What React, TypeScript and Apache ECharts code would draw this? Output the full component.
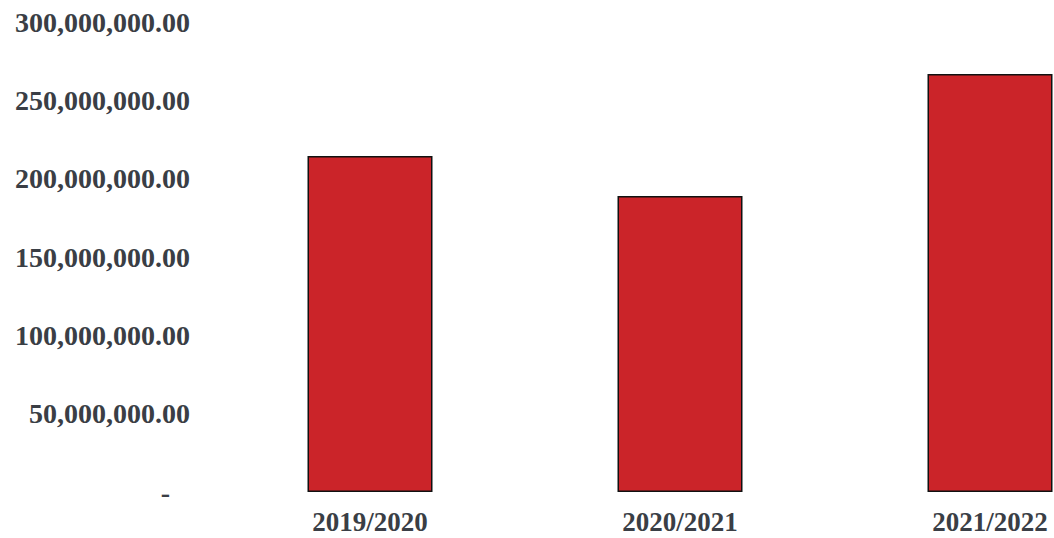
import React, { useEffect, useRef } from "react";
import * as echarts from "echarts";

const categories = ["2019/2020", "2020/2021", "2021/2022"];
const values = [214500000, 189000000, 266800000];
const yTicks = [0, 50000000, 100000000, 150000000, 200000000, 250000000, 300000000];

function fmt(v: number): string {
  if (v === 0) return "{z|-}";
  return v.toLocaleString("en-US", { minimumFractionDigits: 2, maximumFractionDigits: 2 });
}

export default function App() {
  const ref = useRef<HTMLDivElement>(null);
  useEffect(() => {
    if (!ref.current) return;
    const chart = echarts.init(ref.current, null, { renderer: "svg" });
    const font = "'Liberation Serif', 'Times New Roman', serif";
    chart.setOption({
      animation: false,
      backgroundColor: "#ffffff",
      grid: {
        left: 215,
        top: 22,
        bottom: 46,
        width: 930,
        containLabel: false,
        outerBoundsMode: "none",
      },
      xAxis: {
        type: "category",
        data: categories,
        axisLine: { show: false },
        axisTick: { show: false },
        axisLabel: {
          color: "#3a3e45",
          fontFamily: font,
          fontWeight: "bold",
          fontSize: 27,
          lineHeight: 24,
          margin: 18,
          hideOverlap: false,
        },
      },
      yAxis: {
        type: "value",
        min: yTicks[0],
        max: yTicks[yTicks.length - 1],
        interval: 50000000,
        splitLine: { show: false },
        axisLine: { show: false },
        axisTick: { show: false },
        axisLabel: {
          color: "#3a3e45",
          fontFamily: font,
          fontWeight: "bold",
          fontSize: 28,
          margin: 25,
          formatter: (v: number) => fmt(v),
          rich: {
            z: {
              color: "#3a3e45",
              fontFamily: font,
              fontWeight: "bold",
              fontSize: 28,
              padding: [0, 20, 0, 0],
            },
          },
        },
      },
      series: [
        {
          type: "bar",
          data: values,
          barWidth: 125,
          itemStyle: { color: "#cb2429", borderColor: "#111111", borderWidth: 1.5 },
        },
      ],
    });
    return () => chart.dispose();
  }, []);
  return (
    <div
      ref={ref}
      style={{ position: "fixed", left: 0, top: 0, width: 1054, height: 538 }}
    />
  );
}
